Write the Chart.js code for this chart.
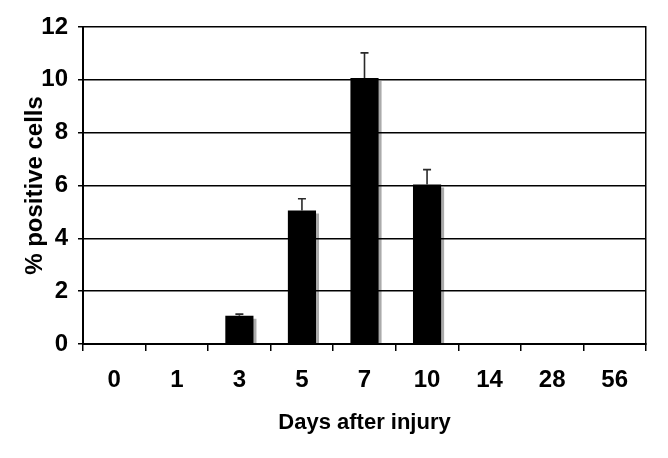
<!DOCTYPE html>
<html lang="en">
<head>
  <meta charset="UTF-8">
  <title>% positive cells by days after injury</title>
  <script src="https://cdn.jsdelivr.net/npm/chart.js"></script>
  <style>
    html, body { margin: 0; padding: 0; background: #ffffff; }
    #wrap { width: 668px; height: 458px; }
  </style>
</head>
<body>
  <div id="wrap"><canvas id="cellsChart" width="668" height="458"></canvas></div>

  <script>
    // data
    const days = ['0', '1', '3', '5', '7', '10', '14', '28', '56'];
    const positiveCells = [0, 0, 1.07, 5.05, 10.07, 6.04, 0, 0, 0];
    const errorUp = [0, 0, 0.06, 0.45, 0.95, 0.56, 0, 0, 0];
    const yTicks = [0, 2, 4, 6, 8, 10, 12];

    const labelFont = '"Liberation Sans Narrow", "Arial Narrow", "Liberation Sans", Arial, sans-serif';

    // grey drop shadow behind the bars
    const barShadow = {
      id: 'barShadow',
      beforeDatasetsDraw(chart) {
        const ctx = chart.ctx;
        ctx.save();
        ctx.shadowColor = 'rgba(0,0,0,0.33)';
        ctx.shadowOffsetX = 3;
        ctx.shadowOffsetY = 3;
        ctx.shadowBlur = 0;
      },
      afterDatasetsDraw(chart) {
        chart.ctx.restore();
      }
    };

    // upper error bars
    const errorBars = {
      id: 'errorBars',
      afterDatasetsDraw(chart) {
        const ctx = chart.ctx;
        const y = chart.scales.y;
        const meta = chart.getDatasetMeta(0);
        ctx.save();
        ctx.strokeStyle = '#2a2a2a';
        ctx.lineWidth = 1.6;
        meta.data.forEach((bar, i) => {
          if (!errorUp[i]) return;
          const top = y.getPixelForValue(positiveCells[i] + errorUp[i]);
          const base = y.getPixelForValue(positiveCells[i]);
          ctx.beginPath();
          ctx.moveTo(bar.x, base);
          ctx.lineTo(bar.x, top);
          ctx.moveTo(bar.x - 4, top);
          ctx.lineTo(bar.x + 4, top);
          ctx.stroke();
        });
        ctx.restore();
      }
    };

    const ctx = document.getElementById('cellsChart').getContext('2d');
    new Chart(ctx, {
      type: 'bar',
      data: {
        labels: days,
        datasets: [{
          data: positiveCells,
          backgroundColor: '#000000',
          borderWidth: 0,
          barPercentage: 0.9,
          categoryPercentage: 0.5
        }]
      },
      options: {
        responsive: false,
        animation: false,
        events: [],
        layout: { padding: { left: 0, right: 22, top: 27, bottom: 0 } },
        plugins: {
          legend: { display: false },
          tooltip: { enabled: false }
        },
        scales: {
          x: {
            afterFit(scale) { scale.height = 114; },
            grid: {
              offset: true,
              drawOnChartArea: false,
              drawTicks: true,
              tickLength: 7,
              color: '#000000',
              lineWidth: 1.5
            },
            border: { display: true, color: '#000000', width: 2 },
            ticks: {
              color: '#000000',
              padding: 15,
              font: { family: labelFont, size: 24, weight: 'bold' }
            },
            title: {
              display: true,
              text: 'Days after injury',
              color: '#000000',
              padding: { top: 0, bottom: 22 },
              font: { family: labelFont, size: 22, weight: 'bold' }
            }
          },
          y: {
            min: 0,
            max: 12,
            afterFit(scale) { scale.width = 83; },
            afterBuildTicks(scale) {
              scale.ticks = yTicks.map(v => ({ value: v }));
            },
            grid: {
              color: '#000000',
              lineWidth: 1.5,
              drawTicks: true,
              tickLength: 5
            },
            border: { display: true, color: '#000000', width: 2 },
            ticks: {
              color: '#000000',
              padding: 10,
              font: { family: labelFont, size: 24, weight: 'bold' }
            },
            title: {
              display: true,
              text: '% positive cells',
              color: '#000000',
              padding: { top: 21, bottom: 0 },
              font: { family: '"Liberation Sans", Arial, sans-serif', size: 24, weight: 'bold' }
            }
          },
          yRight: {
            position: 'right',
            min: 0,
            max: 12,
            afterFit(scale) { scale.width = 0; },
            ticks: { display: false },
            grid: { display: false, drawOnChartArea: false },
            border: { display: true, color: '#000000', width: 1.5 }
          }
        }
      },
      plugins: [barShadow, errorBars]
    });
  </script>
</body>
</html>
